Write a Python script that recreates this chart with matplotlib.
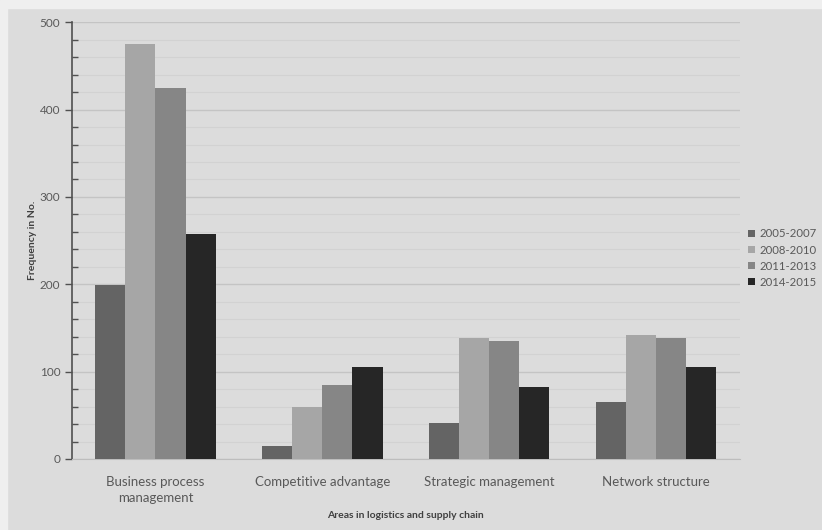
import matplotlib.pyplot as plt
import matplotlib.patches as mpatches
import numpy as np

plt.rcParams['font.family'] = ['Lato', 'DejaVu Sans']

categories = ['Business process\nmanagement', 'Competitive advantage',
              'Strategic management', 'Network structure']
periods = ['2005-2007', '2008-2010', '2011-2013', '2014-2015']
v2005 = [199, 15, 41, 65]
v2008 = [475, 60, 139, 142]
v2011 = [425, 85, 135, 139]
v2014 = [258, 105, 82, 105]
colors = ['#646464', '#a6a6a6', '#868686', '#262626']

series = [v2005, v2008, v2011, v2014]
x = np.arange(len(categories))
width = 0.18

fig = plt.figure(figsize=(8.22, 5.30), dpi=100, facecolor='#dcdcdc')
fig.patches.append(mpatches.Rectangle((0, 0), 0.009, 1, transform=fig.transFigure,
                                      color='#efefef', zorder=0))
fig.patches.append(mpatches.Rectangle((0, 0.985), 1, 0.015, transform=fig.transFigure,
                                      color='#efefef', zorder=0))
ax = fig.add_axes([0.0876, 0.134, 0.8124, 0.824])
ax.set_facecolor('#dcdcdc')

for i, (vals, lab, c) in enumerate(zip(series, periods, colors)):
    ax.bar(x + (i - 1.5) * width, vals, width, color=c, label=lab, zorder=3)

ax.set_xlim(-0.5, 3.5)
ax.set_ylim(0, 500)
ax.set_yticks(np.arange(0, 501, 100))
ax.set_yticks(np.arange(0, 501, 20), minor=True)
ax.grid(axis='y', which='major', color='#c4c4c4', linewidth=1, zorder=0)
ax.grid(axis='y', which='minor', color='#d2d2d2', linewidth=0.8, zorder=0)

ax.set_xticks(x)
ax.set_xticklabels(categories, linespacing=1.45)
ax.tick_params(axis='x', length=0, pad=12, labelsize=9.5, labelcolor='#595959')
ax.tick_params(axis='y', which='major', direction='out', length=5, width=1,
               color='#505050', labelsize=8.5, labelcolor='#595959')
ax.tick_params(axis='y', which='minor', direction='in', length=4, width=1,
               color='#505050')

for s in ['top', 'right']:
    ax.spines[s].set_visible(False)
ax.spines['left'].set_color('#505050')
ax.spines['left'].set_linewidth(1.2)
ax.spines['bottom'].set_color('#bdbdbd')

ax.set_ylabel('Frequency in No.', fontsize=7.5, fontweight='bold', color='#404040',
              labelpad=2)
ax.set_xlabel('Areas in logistics and supply chain', fontsize=7.5,
              fontweight='bold', color='#404040', labelpad=5)

ax.legend(loc='center left', bbox_to_anchor=(1.012, 0.46), frameon=False,
          borderaxespad=0, borderpad=0,
          handlelength=0.6, handleheight=0.6, handletextpad=0.4,
          labelspacing=0.45, fontsize=8.2, labelcolor='#595959')

plt.savefig('out.png', dpi=100, facecolor=fig.get_facecolor())
